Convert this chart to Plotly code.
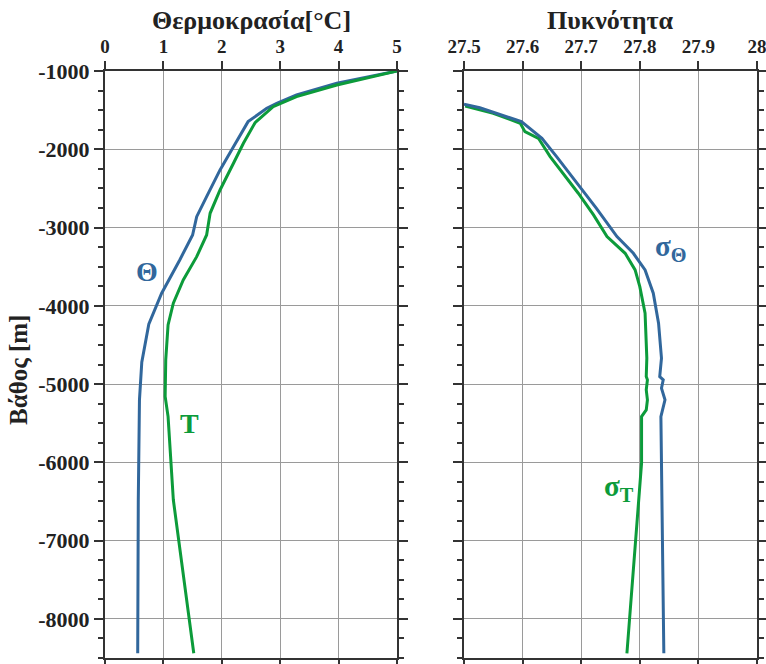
import plotly.graph_objects as go

# ---------------- data ----------------
theta_x = [5.0, 3.97, 3.28, 2.94, 2.77, 2.45, 2.20, 1.97, 1.74, 1.57, 1.50, 1.28, 0.97, 0.75, 0.63, 0.59, 0.57, 0.56]
theta_d = [-1000, -1157, -1307, -1413, -1477, -1647, -1967, -2264, -2605, -2861, -3095, -3414, -3839, -4235, -4720, -5202, -6479, -8440]

temp_x = [5.0, 3.97, 3.28, 2.88, 2.57, 2.37, 2.20, 1.97, 1.80, 1.74, 1.57, 1.34, 1.17, 1.08, 1.04, 1.03, 1.08, 1.17, 1.52]
temp_d = [-1000, -1179, -1328, -1456, -1660, -1923, -2179, -2520, -2818, -3095, -3372, -3669, -3967, -4244, -4691, -5159, -5415, -6479, -8440]

sig_theta_x = [27.50, 27.527, 27.598, 27.633, 27.658, 27.698, 27.726, 27.761, 27.789, 27.809, 27.823, 27.832, 27.837,
               27.834, 27.840, 27.837, 27.843, 27.836, 27.837, 27.839, 27.841]
sig_theta_d = [-1426, -1469, -1647, -1860, -2094, -2477, -2754, -3116, -3329, -3542, -3839, -4222, -4669,
               -4904, -4946, -5053, -5202, -5415, -6054, -6990, -8440]

sig_t_x = [27.502, 27.55, 27.596, 27.604, 27.627, 27.647, 27.695, 27.721, 27.744, 27.775, 27.792, 27.800, 27.809, 27.812,
           27.811, 27.813, 27.811, 27.813, 27.811, 27.803, 27.803, 27.797, 27.792, 27.778]
sig_t_d = [-1447, -1541, -1668, -1775, -1860, -2094, -2562, -2839, -3116, -3329, -3542, -3755, -4095, -4669,
           -4904, -4946, -5074, -5202, -5330, -5415, -6011, -6607, -7118, -8440]

temp_ticks = [0, 1, 2, 3, 4, 5]
dens_ticks = [27.5, 27.6, 27.7, 27.8, 27.9, 28]
dens_labels = ["27.5", "27.6", "27.7", "27.8", "27.9", "28"]
depth_ticks = [-1000, -2000, -3000, -4000, -5000, -6000, -7000, -8000]

BLUE = "#31679c"
GREEN = "#0c9b3a"
FONT = "Liberation Serif"
TXT = "#222222"

fig = go.Figure()
fig.add_trace(go.Scatter(x=theta_x, y=theta_d, mode="lines", line=dict(color=BLUE, width=3),
                         xaxis="x", yaxis="y", showlegend=False))
fig.add_trace(go.Scatter(x=temp_x, y=temp_d, mode="lines", line=dict(color=GREEN, width=3),
                         xaxis="x", yaxis="y", showlegend=False))
fig.add_trace(go.Scatter(x=sig_t_x, y=sig_t_d, mode="lines", line=dict(color=GREEN, width=3),
                         xaxis="x2", yaxis="y2", showlegend=False))
fig.add_trace(go.Scatter(x=sig_theta_x, y=sig_theta_d, mode="lines", line=dict(color=BLUE, width=3),
                         xaxis="x2", yaxis="y2", showlegend=False))

AX = "#333333"
GRID = "#9a9a9a"

xcommon = dict(side="top", showline=True, linecolor=AX, linewidth=2, mirror="ticks",
               ticks="outside", ticklen=8, tickwidth=2, tickcolor=AX, automargin=False,
               ticklabeloverflow="allow",
               showgrid=True, gridcolor=GRID, gridwidth=1, zeroline=False,
               tickfont=dict(family=FONT, size=19, color=TXT, weight="bold"))
ycommon = dict(range=[-8500, -1000], tickvals=depth_ticks, showline=True, linecolor=AX, linewidth=2,
               mirror="ticks", ticks="outside", ticklen=9, tickwidth=2, tickcolor=AX, automargin=False,
               showgrid=True, gridcolor=GRID, gridwidth=1, zeroline=False,
               minor=dict(dtick=250, tick0=-1000, ticks="outside", ticklen=5, tickwidth=1.5,
                          tickcolor=AX, showgrid=False),
               tickfont=dict(family=FONT, size=22, color=TXT, weight="bold"))

fig.update_layout(
    width=766, height=664,
    margin=dict(l=0, r=0, t=0, b=0),
    paper_bgcolor="white", plot_bgcolor="white",
    xaxis=dict(domain=[105/766, 397/766], range=[0, 5], tickvals=temp_ticks, anchor="y", **xcommon),
    xaxis2=dict(domain=[464/766, 757/766], range=[27.5, 28], tickvals=dens_ticks, ticktext=dens_labels,
                anchor="y2", **xcommon),
    yaxis=dict(domain=[1 - 658/664, 1 - 71/664], anchor="x", ticktext=[str(v) for v in depth_ticks], **ycommon),
    yaxis2=dict(domain=[1 - 658/664, 1 - 71/664], anchor="x2", showticklabels=False, **ycommon),
)

ann = []
ann.append(dict(text="<b>Θερμοκρασία[°C]</b>", x=252/766, y=1 - 20/664, xref="paper", yref="paper",
                xanchor="center", yanchor="middle",
                showarrow=False, font=dict(family=FONT, size=26, color=TXT)))
ann.append(dict(text="<b>Πυκνότητα</b>", x=610/766, y=1 - 20/664, xref="paper", yref="paper",
                xanchor="center", yanchor="middle",
                showarrow=False, font=dict(family=FONT, size=26, color=TXT)))
ann.append(dict(text="<b>Βάθος [m]</b>", x=18/766, y=1 - 370/664, xref="paper", yref="paper",
                xanchor="center", yanchor="middle",
                showarrow=False, textangle=-90, font=dict(family=FONT, size=25, color=TXT)))
ann.append(dict(text="<b>Θ</b>", x=0.72, y=-3567, xref="x", yref="y", showarrow=False,
                xanchor="center", yanchor="middle", font=dict(family=FONT, size=28, color=BLUE)))
ann.append(dict(text="<b>T</b>", x=1.44, y=-5508, xref="x", yref="y", showarrow=False,
                xanchor="center", yanchor="middle", font=dict(family=FONT, size=28, color=GREEN)))
ann.append(dict(text="<b>σ<sub>Θ</sub></b>", x=27.853, y=-3260, xref="x2", yref="y2", showarrow=False,
                xanchor="center", yanchor="middle", font=dict(family=FONT, size=29, color=BLUE)))
ann.append(dict(text="<b>σ<sub>T</sub></b>", x=27.765, y=-6330, xref="x2", yref="y2", showarrow=False,
                xanchor="center", yanchor="middle", font=dict(family=FONT, size=29, color=GREEN)))
fig.update_layout(annotations=ann)

fig.write_html("out.html")
